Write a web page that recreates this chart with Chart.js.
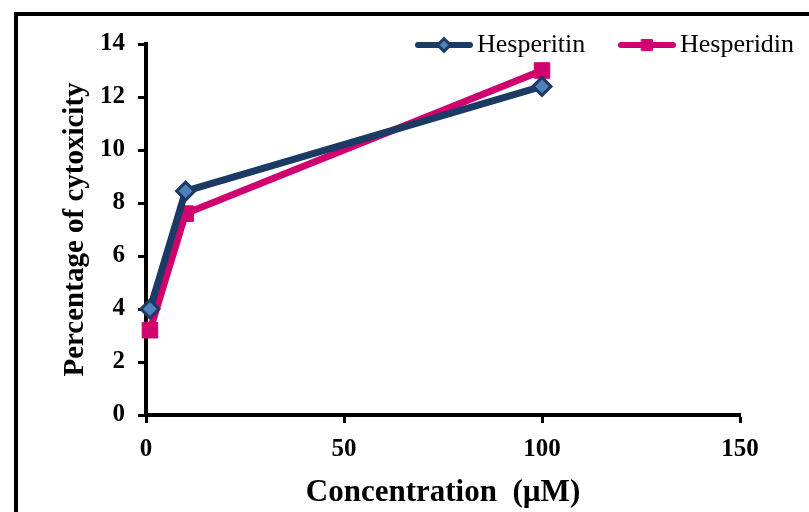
<!DOCTYPE html>
<html>
<head>
<meta charset="utf-8">
<script src="https://cdn.jsdelivr.net/npm/chart.js@4"></script>
<style>
  body { margin: 0; background: #fff; }
  #wrap { width: 809px; height: 512px; }
</style>
</head>
<body>
<div id="wrap"><canvas id="cyto-chart" width="809" height="512"></canvas></div>
<script>
// concentrations (µM) and % cytoxicity
const concentrations = [1, 10, 100];
const hesperitin = [4.0, 8.45, 12.4];
const hesperidin = [3.2, 7.6, 13.0];
const xTicks = [0, 50, 100, 150];
const yTicks = [0, 2, 4, 6, 8, 10, 12, 14];

const navy = '#1b3a64';
const magenta = '#d0006f';
const serif = "'Liberation Serif', 'Times New Roman', serif";

const toPoints = (xs, ys) => xs.map((x, i) => ({ x: x, y: ys[i] }));

// black frame at top and left, like the original figure box
const framePlugin = {
  id: 'frame',
  beforeDraw(chart) {
    const ctx = chart.ctx;
    ctx.save();
    ctx.fillStyle = '#fff';
    ctx.fillRect(0, 0, chart.width, chart.height);
    ctx.fillStyle = '#000';
    ctx.fillRect(14, 12, chart.width - 14, 4);
    ctx.fillRect(14, 12, 4, chart.height - 12);
    ctx.restore();
  }
};

// legend with line sample + marker, drawn in the top right
const lineLegend = {
  id: 'lineLegend',
  afterDraw(chart) {
    const ctx = chart.ctx;
    const spots = [415, 618];
    const y = 45;
    ctx.save();
    chart.data.datasets.forEach((ds, i) => {
      const x0 = spots[i];
      ctx.strokeStyle = ds.borderColor;
      ctx.lineWidth = 6;
      ctx.lineCap = 'round';
      ctx.beginPath();
      ctx.moveTo(x0 + 3, y);
      ctx.lineTo(x0 + 55, y);
      ctx.stroke();
      ctx.fillStyle = ds.pointBackgroundColor;
      ctx.strokeStyle = ds.pointBorderColor;
      ctx.lineWidth = ds.pointBorderWidth;
      Chart.helpers.drawPoint(ctx, {
        pointStyle: ds.pointStyle,
        radius: ds.pointRadius * 0.7,
        borderWidth: ds.pointBorderWidth
      }, x0 + 29, y);
      ctx.fillStyle = '#000';
      ctx.font = '26px ' + serif;
      ctx.textBaseline = 'middle';
      ctx.fillText(ds.label, x0 + 62, y);
    });
    ctx.restore();
  }
};

new Chart(document.getElementById('cyto-chart'), {
  type: 'line',
  data: {
    datasets: [
      {
        label: 'Hesperitin',
        data: toPoints(concentrations, hesperitin),
        borderColor: navy,
        borderWidth: 7,
        pointStyle: 'rectRot',
        pointRadius: 9,
        pointBorderWidth: 3,
        pointBackgroundColor: '#4f81bd',
        pointBorderColor: navy,
        tension: 0,
        clip: false
      },
      {
        label: 'Hesperidin',
        data: toPoints(concentrations, hesperidin),
        borderColor: magenta,
        borderWidth: 7,
        pointStyle: 'rect',
        pointRadius: 11,
        pointBorderWidth: 1,
        pointBackgroundColor: magenta,
        pointBorderColor: magenta,
        tension: 0,
        clip: false
      }
    ]
  },
  options: {
    responsive: false,
    animation: false,
    devicePixelRatio: 1,
    layout: { padding: { top: 44, right: 69, left: 0, bottom: 0 } },
    plugins: {
      legend: { display: false },
      tooltip: { enabled: false }
    },
    scales: {
      x: {
        type: 'linear',
        min: 0,
        max: 150,
        afterFit(scale) { scale.height = 97; },
        afterBuildTicks(scale) { scale.ticks = xTicks.map(v => ({ value: v })); },
        border: { display: true, width: 4, color: '#000' },
        grid: { drawOnChartArea: false, drawTicks: true, tickLength: 8, tickWidth: 3, tickColor: '#000' },
        ticks: { color: '#000', padding: 12, font: { family: serif, size: 25, weight: 'bold' } },
        title: {
          display: true,
          text: 'Concentration  (µM)',
          color: '#000',
          font: { family: serif, size: 31, weight: 'bold' },
          padding: { top: 0, bottom: 0 }
        }
      },
      y: {
        min: 0,
        max: 14,
        afterFit(scale) { scale.width = 146; },
        afterBuildTicks(scale) { scale.ticks = yTicks.map(v => ({ value: v })); },
        border: { display: true, width: 4, color: '#000' },
        grid: { drawOnChartArea: false, drawTicks: true, tickLength: 8, tickWidth: 3, tickColor: '#000' },
        ticks: { color: '#000', padding: 13, font: { family: serif, size: 25, weight: 'bold' } },
        title: {
          display: true,
          text: 'Percentage of cytoxicity',
          color: '#000',
          font: { family: serif, size: 29, weight: 'bold' },
          padding: { top: 58, bottom: 0 }
        }
      }
    }
  },
  plugins: [framePlugin, lineLegend]
});
</script>
</body>
</html>
